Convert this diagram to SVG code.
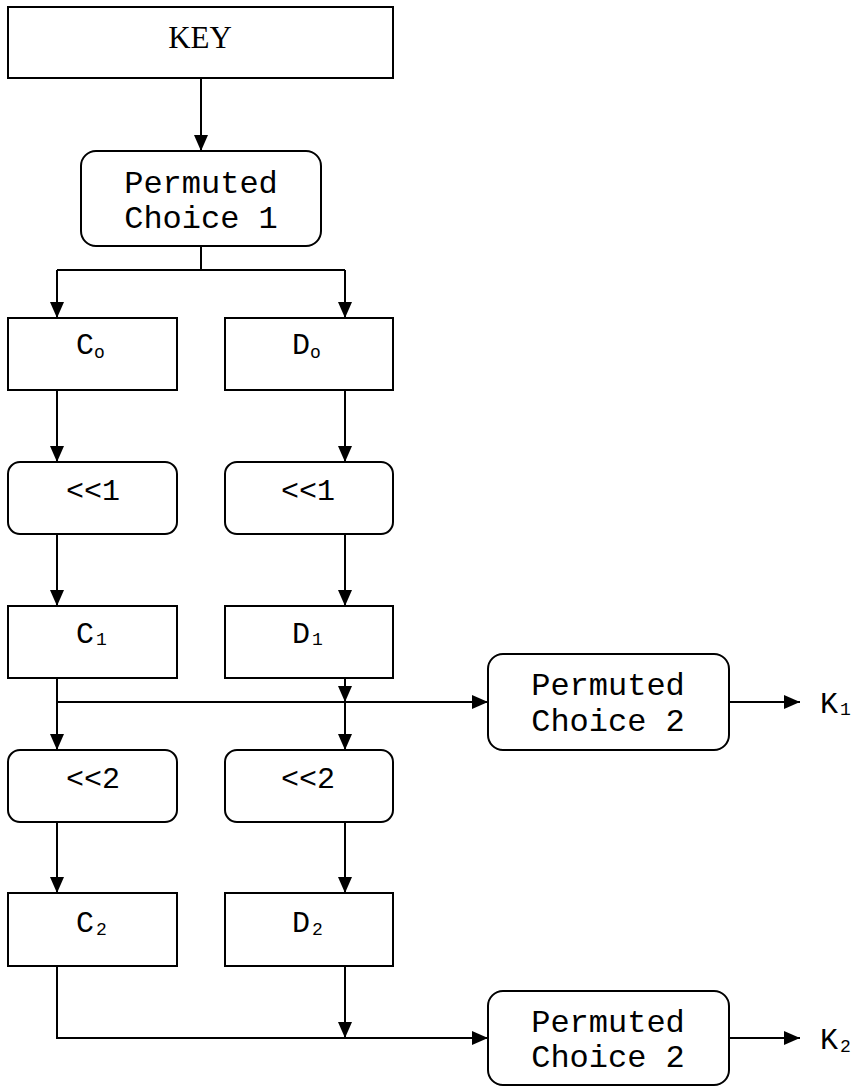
<svg xmlns="http://www.w3.org/2000/svg" width="854" height="1087" viewBox="0 0 854 1087">
<style>
.box{fill:#fff;stroke:#000;stroke-width:2}
.mono{font-family:"Liberation Mono","Courier New",monospace;font-size:30px;fill:#000}
.pc{font-size:32px}
.serif{font-family:"Liberation Serif","Times New Roman",serif;font-size:31px;fill:#000}
.sub{font-size:18px}
.conn path{fill:none;stroke:#000;stroke-width:2}
</style>
<defs>
<marker id="ah" markerUnits="userSpaceOnUse" markerWidth="16" markerHeight="14" refX="16" refY="7" orient="auto">
<path d="M0,0 L16,7 L0,14 Z" fill="#000"/>
</marker>
</defs>
<rect width="854" height="1087" fill="#fff"/>
<g class="conn">
<path d="M201,78 V151" marker-end="url(#ah)"/>
<path d="M201,246 V270 M57,270 H345"/>
<path d="M57,270 V318" marker-end="url(#ah)"/>
<path d="M345,270 V318" marker-end="url(#ah)"/>
<path d="M57,390 V462" marker-end="url(#ah)"/>
<path d="M345,390 V462" marker-end="url(#ah)"/>
<path d="M57,534 V606" marker-end="url(#ah)"/>
<path d="M345,534 V606" marker-end="url(#ah)"/>
<path d="M57,678 V750" marker-end="url(#ah)"/>
<path d="M57,702 H488" marker-end="url(#ah)"/>
<path d="M345,678 V702" marker-end="url(#ah)"/>
<path d="M345,702 V750" marker-end="url(#ah)"/>
<path d="M57,822 V893" marker-end="url(#ah)"/>
<path d="M345,822 V893" marker-end="url(#ah)"/>
<path d="M57,966 V1038 H488" marker-end="url(#ah)"/>
<path d="M345,966 V1038" marker-end="url(#ah)"/>
<path d="M729,702 H800" marker-end="url(#ah)"/>
<path d="M729,1038 H800" marker-end="url(#ah)"/>
</g>
<g id="key">
<rect class="box" x="8" y="7" width="385" height="71"/>
<text class="serif" x="200" y="48" text-anchor="middle">KEY</text>
</g>
<g id="pc1">
<rect class="box" x="81" y="151" width="240" height="95" rx="15"/>
<text class="mono pc" x="201" y="193" text-anchor="middle">Permuted</text>
<text class="mono pc" x="201" y="228" text-anchor="middle">Choice 1</text>
</g>
<g id="c0">
<rect class="box" x="8" y="318" width="169" height="72"/>
<text class="mono" x="76" y="354">C<tspan class="sub" dy="4">o</tspan></text>
</g>
<g id="d0">
<rect class="box" x="225" y="318" width="168" height="72"/>
<text class="mono" x="292" y="354">D<tspan class="sub" dy="4">o</tspan></text>
</g>
<g id="ls1c">
<rect class="box" x="8" y="462" width="169" height="72" rx="12"/>
<text class="mono" x="93" y="500" text-anchor="middle">&lt;&lt;1</text>
</g>
<g id="ls1d">
<rect class="box" x="225" y="462" width="168" height="72" rx="12"/>
<text class="mono" x="308" y="500" text-anchor="middle">&lt;&lt;1</text>
</g>
<g id="c1">
<rect class="box" x="8" y="606" width="169" height="72"/>
<text class="mono" x="76" y="643">C<tspan class="sub" dx="2" dy="2">1</tspan></text>
</g>
<g id="d1">
<rect class="box" x="225" y="606" width="168" height="72"/>
<text class="mono" x="292" y="643">D<tspan class="sub" dx="2" dy="2">1</tspan></text>
</g>
<g id="pc2a">
<rect class="box" x="488" y="654" width="241" height="96" rx="15"/>
<text class="mono pc" x="608" y="695" text-anchor="middle">Permuted</text>
<text class="mono pc" x="608" y="731" text-anchor="middle">Choice 2</text>
</g>
<g id="k1">
<text class="mono" x="820" y="713">K<tspan class="sub" dx="2" dy="2">1</tspan></text>
</g>
<g id="ls2c">
<rect class="box" x="8" y="750" width="169" height="72" rx="12"/>
<text class="mono" x="93" y="788" text-anchor="middle">&lt;&lt;2</text>
</g>
<g id="ls2d">
<rect class="box" x="225" y="750" width="168" height="72" rx="12"/>
<text class="mono" x="308" y="788" text-anchor="middle">&lt;&lt;2</text>
</g>
<g id="c2">
<rect class="box" x="8" y="893" width="169" height="73"/>
<text class="mono" x="76" y="932">C<tspan class="sub" dx="2" dy="3">2</tspan></text>
</g>
<g id="d2">
<rect class="box" x="225" y="893" width="168" height="73"/>
<text class="mono" x="292" y="932">D<tspan class="sub" dx="2" dy="3">2</tspan></text>
</g>
<g id="pc2b">
<rect class="box" x="488" y="991" width="241" height="94" rx="15"/>
<text class="mono pc" x="608" y="1032" text-anchor="middle">Permuted</text>
<text class="mono pc" x="608" y="1067" text-anchor="middle">Choice 2</text>
</g>
<g id="k2">
<text class="mono" x="820" y="1049">K<tspan class="sub" dx="2" dy="3">2</tspan></text>
</g>
</svg>
